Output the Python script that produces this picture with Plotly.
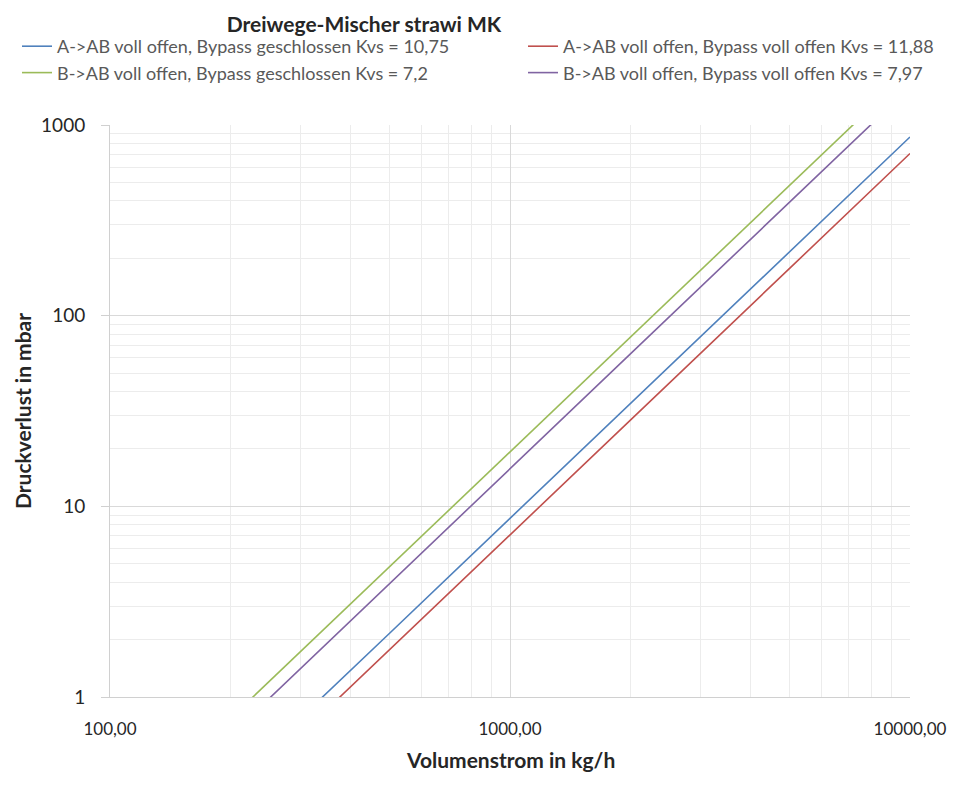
import plotly.graph_objects as go

# Volumenstrom in kg/h (x) and Druckverlust in mbar (y)
flow = [100, 200, 500, 1000, 2000, 5000, 10000]

names = [
    "A->AB voll offen, Bypass geschlossen Kvs = 10,75",
    "A->AB voll offen, Bypass voll offen Kvs = 11,88",
    "B->AB voll offen, Bypass geschlossen Kvs = 7,2",
    "B->AB voll offen, Bypass voll offen Kvs = 7,97",
]
dp_a_closed = [0.087, 0.346, 2.16, 8.65, 34.6, 216, 865]
dp_a_open = [0.071, 0.283, 1.77, 7.09, 28.3, 177, 709]
dp_b_closed = [0.193, 0.772, 4.82, 19.3, 77.2, 482, 1929]
dp_b_open = [0.157, 0.630, 3.94, 15.7, 63.0, 394, 1574]

series = [dp_a_closed, dp_a_open, dp_b_closed, dp_b_open]
colors = ["#4F81BD", "#C0504D", "#9BBB59", "#8064A2"]
legend_ids = ["legend", "legend2", "legend", "legend2"]

x_tickvals = [100, 1000, 10000]
x_ticktext = ["100,00", "1000,00", "10000,00"]
y_tickvals = [1, 10, 100, 1000]
y_ticktext = ["1", "10", "100", "1000"]

FONT = "Lato"

fig = go.Figure()
for name, ys, c, lg in zip(names, series, colors, legend_ids):
    fig.add_trace(go.Scatter(x=flow, y=ys, mode="lines", name=name, legend=lg,
                             line=dict(color=c, width=1.6)))

legend_common = dict(orientation="v", xref="container", yref="container",
                     xanchor="left", yanchor="top",
                     font=dict(size=18, color="#595959", family=FONT),
                     itemwidth=30, tracegroupgap=0, bgcolor="rgba(0,0,0,0)")

fig.update_layout(
    width=970, height=787,
    paper_bgcolor="white", plot_bgcolor="white",
    margin=dict(l=102, r=68, t=117, b=98, autoexpand=False),
    font=dict(family=FONT, color="#404040"),
    title=dict(text="<b>Dreiwege-Mischer strawi MK</b>", x=356/970, xanchor="center",
               xref="container", y=1-17/787, yref="container", yanchor="middle",
               font=dict(size=21, color="#262626", family=FONT)),
    legend=dict(x=9/970, y=1-20/787, **legend_common),
    legend2=dict(x=515/970, y=1-20/787, **legend_common),
    showlegend=True,
    annotations=[
        dict(text="<b>Druckverlust in mbar</b>", textangle=-90, xref="paper", yref="paper",
             x=-0.11, y=0.5, xanchor="center", yanchor="middle", showarrow=False,
             font=dict(size=21, color="#262626", family=FONT)),
        dict(text="<b>Volumenstrom in kg/h</b>", xref="paper", yref="paper",
             x=0.5, y=-0.11, xanchor="center", yanchor="middle", showarrow=False,
             font=dict(size=21, color="#262626", family=FONT)),
    ],
)

fig.update_xaxes(
    type="log", range=[2, 4], tickvals=x_tickvals, ticktext=x_ticktext,
    tickfont=dict(size=17, color="#262626"), ticklabelstandoff=17,
    showgrid=True, gridcolor="#d9d9d9", gridwidth=1,
    minor=dict(showgrid=True, gridcolor="#ececec", gridwidth=1,
               tickvals=[200, 300, 400, 500, 600, 700, 800, 900,
                         2000, 3000, 4000, 5000, 6000, 7000, 8000, 9000]),
    showline=True, linecolor="#d0d0d0", linewidth=1, zeroline=False,
    ticks="", automargin=False,
)
fig.update_yaxes(
    type="log", range=[0, 3], tickvals=y_tickvals, ticktext=y_ticktext,
    tickfont=dict(size=19, color="#262626"), ticklabelstandoff=12,
    showgrid=True, gridcolor="#d9d9d9", gridwidth=1,
    minor=dict(showgrid=True, gridcolor="#ececec", gridwidth=1,
               tickvals=[2, 3, 4, 5, 6, 7, 8, 9, 20, 30, 40, 50, 60, 70, 80, 90,
                         200, 300, 400, 500, 600, 700, 800, 900]),
    showline=True, linecolor="#d0d0d0", linewidth=1, zeroline=False,
    ticks="outside", ticklen=8, tickcolor="#d0d0d0", automargin=False,
)

fig.write_html("out.html")
